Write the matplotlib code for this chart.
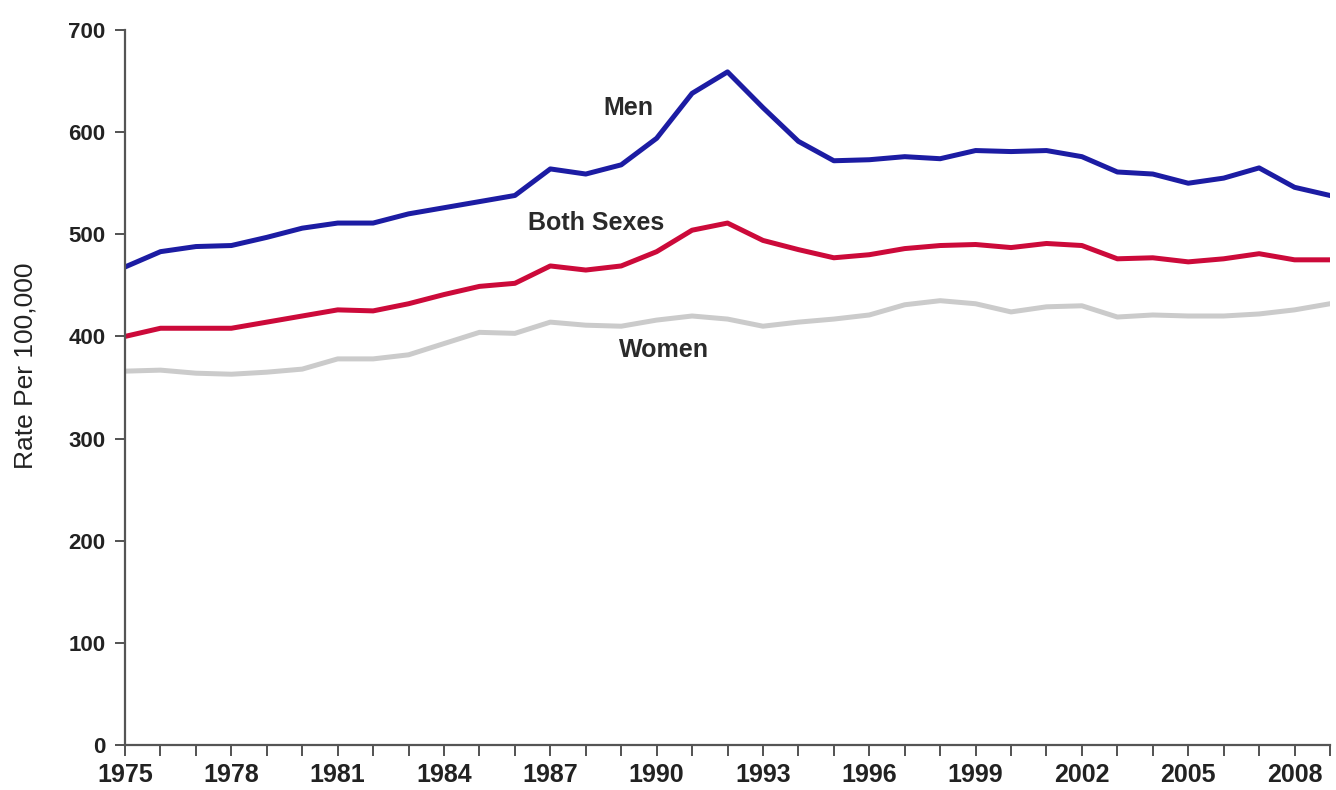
import matplotlib.pyplot as plt
import numpy as np

# years 1975-2009
years = np.arange(1975, 2010)

men = [468, 483, 488, 489, 497, 506, 511, 511, 520, 526, 532, 538, 564,
       559, 568, 594, 638, 659, 624, 591, 572, 573, 576, 574, 582, 581,
       582, 576, 561, 559, 550, 555, 565, 546, 538]
both = [400, 408, 408, 408, 414, 420, 426, 425, 432, 441, 449, 452, 469,
        465, 469, 483, 504, 511, 494, 485, 477, 480, 486, 489, 490, 487,
        491, 489, 476, 477, 473, 476, 481, 475, 475]
women = [366, 367, 364, 363, 365, 368, 378, 378, 382, 393, 404, 403, 414,
         411, 410, 416, 420, 417, 410, 414, 417, 421, 431, 435, 432, 424,
         429, 430, 419, 421, 420, 420, 422, 426, 432]

xtick_years = list(range(1975, 2009, 3))
ytick_vals = list(range(0, 701, 100))

plt.rcParams['font.family'] = ['Liberation Sans', 'DejaVu Sans']

fig = plt.figure(figsize=(13.36, 7.9), dpi=100)
ax = fig.add_axes([0.0936, 0.057, 0.9019, 0.905])

ax.plot(years, women, color='#cbcbcb', linewidth=3.6, solid_joinstyle='round')
ax.plot(years, both, color='#cc0a3a', linewidth=3.6, solid_joinstyle='round')
ax.plot(years, men, color='#1c1ca3', linewidth=3.6, solid_joinstyle='round')

ax.set_xlim(1975, 2009)
ax.set_ylim(0, 700)

ax.set_xticks(years, minor=True)
ax.set_xticks(xtick_years)
ax.set_xticklabels([str(y) for y in xtick_years], fontsize=18, fontweight='bold',
                   color='#222222')
ax.set_yticks(ytick_vals)
ax.set_yticklabels([str(v) for v in ytick_vals], fontsize=16, fontweight='bold',
                   color='#222222')
ax.tick_params(axis='x', which='both', direction='out', length=8, width=1.3,
               color='#444444', pad=5)
ax.tick_params(axis='y', direction='out', length=7, width=1.3,
               color='#444444', pad=7)

for side in ['top', 'right']:
    ax.spines[side].set_visible(False)
for side in ['left', 'bottom']:
    ax.spines[side].set_color('#555555')
    ax.spines[side].set_linewidth(1.6)

ax.set_ylabel('Rate Per 100,000', fontsize=19, color='#222222')
ax.yaxis.set_label_coords(-0.073, 0.531)

# series labels
ax.text(1989.2, 624, 'Men', fontsize=18, fontweight='bold', color='#2a2a2a',
        ha='center', va='center')
ax.text(1988.3, 511, 'Both Sexes', fontsize=18, fontweight='bold', color='#2a2a2a',
        ha='center', va='center')
ax.text(1990.2, 387, 'Women', fontsize=18, fontweight='bold', color='#2a2a2a',
        ha='center', va='center')

fig.savefig('out.png', dpi=100)
